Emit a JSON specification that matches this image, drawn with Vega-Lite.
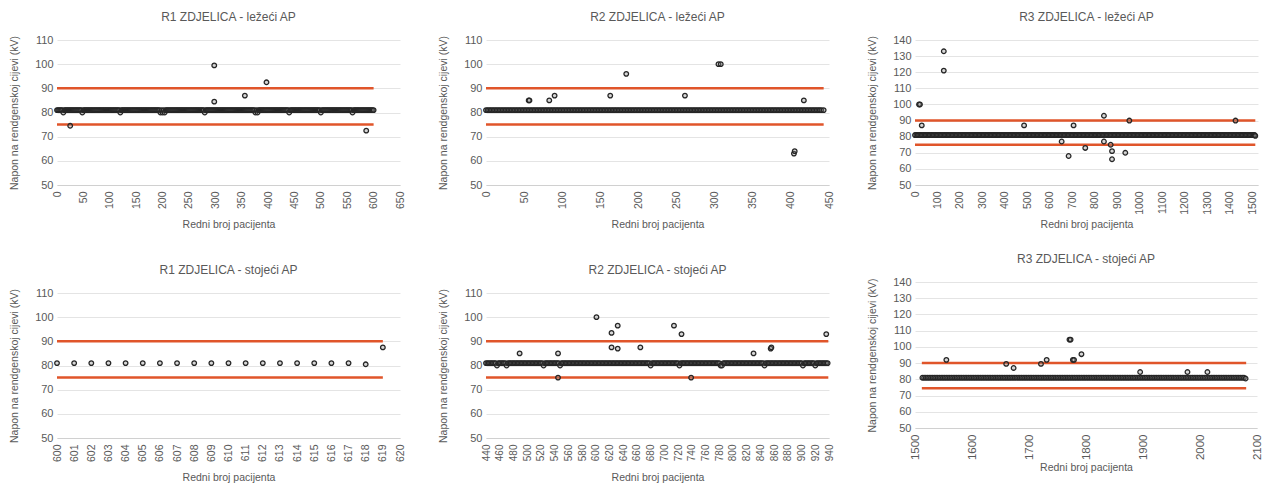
{
"$schema": "https://vega.github.io/schema/vega-lite/v6.json",
"background": "white",
"padding": {"left": 8, "top": 11, "right": 2, "bottom": 2},
"config": {
  "font": "Liberation Sans",
  "view": {"stroke": null},
  "title": {"fontSize": 12, "fontWeight": "normal", "color": "#595959", "offset": 10},
  "axis": {"labelColor": "#595959", "titleColor": "#595959", "labelFontSize": 11, "titleFontSize": 10.5, "titleFontWeight": "normal", "ticks": false, "domain": false, "gridColor": "#e4e4e4", "labelPadding": 4},
  "axisX": {"grid": false, "domain": true, "domainColor": "#d0d0d0", "labelAngle": -90, "labelPadding": 6, "labelOverlap": false, "titlePadding": 6, "labelFontSize": 10.5, "minExtent": 28, "maxExtent": 28},
  "axisY": {"grid": true, "minExtent": 22, "maxExtent": 22, "titlePadding": 16},
  "point": {"shape": "circle", "filled": true, "fill": "#8c8c8c", "fillOpacity": 0.35, "stroke": "#262626", "strokeWidth": 1.3, "strokeOpacity": 1, "size": 21},
  "rule": {"color": "#E0552A", "strokeWidth": 2.5}
},
"datasets": {
  "lim": [
    {"p": "r1l", "x": 0, "xe": 600, "y": 90}, {"p": "r1l", "x": 0, "xe": 600, "y": 75},
    {"p": "r2l", "x": 0, "xe": 443, "y": 90}, {"p": "r2l", "x": 0, "xe": 443, "y": 75},
    {"p": "r3l", "x": 0, "xe": 1513, "y": 90}, {"p": "r3l", "x": 0, "xe": 1513, "y": 75},
    {"p": "r1s", "x": 600, "xe": 619, "y": 90}, {"p": "r1s", "x": 600, "xe": 619, "y": 75},
    {"p": "r2s", "x": 440, "xe": 939, "y": 90}, {"p": "r2s", "x": 440, "xe": 939, "y": 75},
    {"p": "r3s", "x": 1512, "xe": 2081, "y": 90}, {"p": "r3s", "x": 1512, "xe": 2081, "y": 74.5}
  ],
  "r1l": [
    {"x":0,"y":81},{"x":2,"y":81},{"x":4,"y":81},{"x":6,"y":81},{"x":8,"y":81},{"x":10,"y":81},{"x":12,"y":80},{"x":14,"y":81},{"x":16,"y":81},{"x":18,"y":81},
    {"x":20,"y":81},{"x":22,"y":81},{"x":24,"y":81},{"x":26,"y":81},{"x":28,"y":81},{"x":30,"y":81},{"x":32,"y":81},{"x":34,"y":81},{"x":36,"y":81},{"x":38,"y":81},
    {"x":40,"y":81},{"x":42,"y":81},{"x":44,"y":81},{"x":46,"y":81},{"x":48,"y":80},{"x":50,"y":81},{"x":52,"y":81},{"x":54,"y":81},{"x":56,"y":81},{"x":58,"y":81},
    {"x":60,"y":81},{"x":62,"y":81},{"x":64,"y":81},{"x":66,"y":81},{"x":68,"y":81},{"x":70,"y":81},{"x":72,"y":81},{"x":74,"y":81},{"x":76,"y":81},{"x":78,"y":81},
    {"x":80,"y":81},{"x":82,"y":81},{"x":84,"y":81},{"x":86,"y":81},{"x":88,"y":81},{"x":90,"y":81},{"x":92,"y":81},{"x":94,"y":81},{"x":96,"y":81},{"x":98,"y":81},
    {"x":100,"y":81},{"x":102,"y":81},{"x":104,"y":81},{"x":106,"y":81},{"x":108,"y":81},{"x":110,"y":81},{"x":112,"y":81},{"x":114,"y":81},{"x":116,"y":81},{"x":118,"y":81},
    {"x":120,"y":80},{"x":122,"y":81},{"x":124,"y":81},{"x":126,"y":81},{"x":128,"y":81},{"x":130,"y":81},{"x":132,"y":81},{"x":134,"y":81},{"x":136,"y":81},{"x":138,"y":81},
    {"x":140,"y":81},{"x":142,"y":81},{"x":144,"y":81},{"x":146,"y":81},{"x":148,"y":81},{"x":150,"y":81},{"x":152,"y":81},{"x":154,"y":81},{"x":156,"y":81},{"x":158,"y":81},
    {"x":160,"y":81},{"x":162,"y":81},{"x":164,"y":81},{"x":166,"y":81},{"x":168,"y":81},{"x":170,"y":81},{"x":172,"y":81},{"x":174,"y":81},{"x":176,"y":81},{"x":178,"y":81},
    {"x":180,"y":81},{"x":182,"y":81},{"x":184,"y":81},{"x":186,"y":81},{"x":188,"y":81},{"x":190,"y":81},{"x":192,"y":81},{"x":194,"y":81},{"x":196,"y":80},{"x":198,"y":81},
    {"x":200,"y":80},{"x":202,"y":81},{"x":204,"y":80},{"x":206,"y":81},{"x":208,"y":81},{"x":210,"y":81},{"x":212,"y":81},{"x":214,"y":81},{"x":216,"y":81},{"x":218,"y":81},
    {"x":220,"y":81},{"x":222,"y":81},{"x":224,"y":81},{"x":226,"y":81},{"x":228,"y":81},{"x":230,"y":81},{"x":232,"y":81},{"x":234,"y":81},{"x":236,"y":81},{"x":238,"y":81},
    {"x":240,"y":81},{"x":242,"y":81},{"x":244,"y":81},{"x":246,"y":81},{"x":248,"y":81},{"x":250,"y":81},{"x":252,"y":81},{"x":254,"y":81},{"x":256,"y":81},{"x":258,"y":81},
    {"x":260,"y":81},{"x":262,"y":81},{"x":264,"y":81},{"x":266,"y":81},{"x":268,"y":81},{"x":270,"y":81},{"x":272,"y":81},{"x":274,"y":81},{"x":276,"y":81},{"x":278,"y":81},
    {"x":280,"y":80},{"x":282,"y":81},{"x":284,"y":81},{"x":286,"y":81},{"x":288,"y":81},{"x":290,"y":81},{"x":292,"y":81},{"x":294,"y":81},{"x":296,"y":81},{"x":298,"y":81},
    {"x":300,"y":81},{"x":302,"y":81},{"x":304,"y":81},{"x":306,"y":81},{"x":308,"y":81},{"x":310,"y":81},{"x":312,"y":81},{"x":314,"y":81},{"x":316,"y":81},{"x":318,"y":81},
    {"x":320,"y":81},{"x":322,"y":81},{"x":324,"y":81},{"x":326,"y":81},{"x":328,"y":81},{"x":330,"y":81},{"x":332,"y":81},{"x":334,"y":81},{"x":336,"y":81},{"x":338,"y":81},
    {"x":340,"y":81},{"x":342,"y":81},{"x":344,"y":81},{"x":346,"y":81},{"x":348,"y":81},{"x":350,"y":81},{"x":352,"y":81},{"x":354,"y":81},{"x":356,"y":81},{"x":358,"y":81},
    {"x":360,"y":81},{"x":362,"y":81},{"x":364,"y":81},{"x":366,"y":81},{"x":368,"y":81},{"x":370,"y":81},{"x":372,"y":81},{"x":374,"y":81},{"x":376,"y":80},{"x":378,"y":81},
    {"x":380,"y":80},{"x":382,"y":81},{"x":384,"y":81},{"x":386,"y":81},{"x":388,"y":81},{"x":390,"y":81},{"x":392,"y":81},{"x":394,"y":81},{"x":396,"y":81},{"x":398,"y":81},
    {"x":400,"y":81},{"x":402,"y":81},{"x":404,"y":81},{"x":406,"y":81},{"x":408,"y":81},{"x":410,"y":81},{"x":412,"y":81},{"x":414,"y":81},{"x":416,"y":81},{"x":418,"y":81},
    {"x":420,"y":81},{"x":422,"y":81},{"x":424,"y":81},{"x":426,"y":81},{"x":428,"y":81},{"x":430,"y":81},{"x":432,"y":81},{"x":434,"y":81},{"x":436,"y":81},{"x":438,"y":81},
    {"x":440,"y":80},{"x":442,"y":81},{"x":444,"y":81},{"x":446,"y":81},{"x":448,"y":81},{"x":450,"y":81},{"x":452,"y":81},{"x":454,"y":81},{"x":456,"y":81},{"x":458,"y":81},
    {"x":460,"y":81},{"x":462,"y":81},{"x":464,"y":81},{"x":466,"y":81},{"x":468,"y":81},{"x":470,"y":81},{"x":472,"y":81},{"x":474,"y":81},{"x":476,"y":81},{"x":478,"y":81},
    {"x":480,"y":81},{"x":482,"y":81},{"x":484,"y":81},{"x":486,"y":81},{"x":488,"y":81},{"x":490,"y":81},{"x":492,"y":81},{"x":494,"y":81},{"x":496,"y":81},{"x":498,"y":81},
    {"x":500,"y":80},{"x":502,"y":81},{"x":504,"y":81},{"x":506,"y":81},{"x":508,"y":81},{"x":510,"y":81},{"x":512,"y":81},{"x":514,"y":81},{"x":516,"y":81},{"x":518,"y":81},
    {"x":520,"y":81},{"x":522,"y":81},{"x":524,"y":81},{"x":526,"y":81},{"x":528,"y":81},{"x":530,"y":81},{"x":532,"y":81},{"x":534,"y":81},{"x":536,"y":81},{"x":538,"y":81},
    {"x":540,"y":81},{"x":542,"y":81},{"x":544,"y":81},{"x":546,"y":81},{"x":548,"y":81},{"x":550,"y":81},{"x":552,"y":81},{"x":554,"y":81},{"x":556,"y":81},{"x":558,"y":81},
    {"x":560,"y":80},{"x":562,"y":81},{"x":564,"y":81},{"x":566,"y":81},{"x":568,"y":81},{"x":570,"y":81},{"x":572,"y":81},{"x":574,"y":81},{"x":576,"y":81},{"x":578,"y":81},
    {"x":580,"y":81},{"x":582,"y":81},{"x":584,"y":81},{"x":586,"y":81},{"x":588,"y":81},{"x":590,"y":81},{"x":592,"y":81},{"x":594,"y":81},{"x":596,"y":81},{"x":598,"y":81},
    {"x":600,"y":81},
    {"x":25,"y":74.5},{"x":298,"y":99.5},{"x":298,"y":84.5},{"x":356,"y":87},{"x":397,"y":92.5},{"x":586,"y":72.5}
  ],
  "r2l": [
    {"x":0,"y":81},{"x":2,"y":81},{"x":4,"y":81},{"x":6,"y":81},{"x":8,"y":81},{"x":10,"y":81},{"x":12,"y":81},{"x":14,"y":81},{"x":16,"y":81},{"x":18,"y":81},
    {"x":20,"y":81},{"x":22,"y":81},{"x":24,"y":81},{"x":26,"y":81},{"x":28,"y":81},{"x":30,"y":81},{"x":32,"y":81},{"x":34,"y":81},{"x":36,"y":81},{"x":38,"y":81},
    {"x":40,"y":81},{"x":42,"y":81},{"x":44,"y":81},{"x":46,"y":81},{"x":48,"y":81},{"x":50,"y":81},{"x":52,"y":81},{"x":54,"y":81},{"x":56,"y":81},{"x":58,"y":81},
    {"x":60,"y":81},{"x":62,"y":81},{"x":64,"y":81},{"x":66,"y":81},{"x":68,"y":81},{"x":70,"y":81},{"x":72,"y":81},{"x":74,"y":81},{"x":76,"y":81},{"x":78,"y":81},
    {"x":80,"y":81},{"x":82,"y":81},{"x":84,"y":81},{"x":86,"y":81},{"x":88,"y":81},{"x":90,"y":81},{"x":92,"y":81},{"x":94,"y":81},{"x":96,"y":81},{"x":98,"y":81},
    {"x":100,"y":81},{"x":102,"y":81},{"x":104,"y":81},{"x":106,"y":81},{"x":108,"y":81},{"x":110,"y":81},{"x":112,"y":81},{"x":114,"y":81},{"x":116,"y":81},{"x":118,"y":81},
    {"x":120,"y":81},{"x":122,"y":81},{"x":124,"y":81},{"x":126,"y":81},{"x":128,"y":81},{"x":130,"y":81},{"x":132,"y":81},{"x":134,"y":81},{"x":136,"y":81},{"x":138,"y":81},
    {"x":140,"y":81},{"x":142,"y":81},{"x":144,"y":81},{"x":146,"y":81},{"x":148,"y":81},{"x":150,"y":81},{"x":152,"y":81},{"x":154,"y":81},{"x":156,"y":81},{"x":158,"y":81},
    {"x":160,"y":81},{"x":162,"y":81},{"x":164,"y":81},{"x":166,"y":81},{"x":168,"y":81},{"x":170,"y":81},{"x":172,"y":81},{"x":174,"y":81},{"x":176,"y":81},{"x":178,"y":81},
    {"x":180,"y":81},{"x":182,"y":81},{"x":184,"y":81},{"x":186,"y":81},{"x":188,"y":81},{"x":190,"y":81},{"x":192,"y":81},{"x":194,"y":81},{"x":196,"y":81},{"x":198,"y":81},
    {"x":200,"y":81},{"x":202,"y":81},{"x":204,"y":81},{"x":206,"y":81},{"x":208,"y":81},{"x":210,"y":81},{"x":212,"y":81},{"x":214,"y":81},{"x":216,"y":81},{"x":218,"y":81},
    {"x":220,"y":81},{"x":222,"y":81},{"x":224,"y":81},{"x":226,"y":81},{"x":228,"y":81},{"x":230,"y":81},{"x":232,"y":81},{"x":234,"y":81},{"x":236,"y":81},{"x":238,"y":81},
    {"x":240,"y":81},{"x":242,"y":81},{"x":244,"y":81},{"x":246,"y":81},{"x":248,"y":81},{"x":250,"y":81},{"x":252,"y":81},{"x":254,"y":81},{"x":256,"y":81},{"x":258,"y":81},
    {"x":260,"y":81},{"x":262,"y":81},{"x":264,"y":81},{"x":266,"y":81},{"x":268,"y":81},{"x":270,"y":81},{"x":272,"y":81},{"x":274,"y":81},{"x":276,"y":81},{"x":278,"y":81},
    {"x":280,"y":81},{"x":282,"y":81},{"x":284,"y":81},{"x":286,"y":81},{"x":288,"y":81},{"x":290,"y":81},{"x":292,"y":81},{"x":294,"y":81},{"x":296,"y":81},{"x":298,"y":81},
    {"x":300,"y":81},{"x":302,"y":81},{"x":304,"y":81},{"x":306,"y":81},{"x":308,"y":81},{"x":310,"y":81},{"x":312,"y":81},{"x":314,"y":81},{"x":316,"y":81},{"x":318,"y":81},
    {"x":320,"y":81},{"x":322,"y":81},{"x":324,"y":81},{"x":326,"y":81},{"x":328,"y":81},{"x":330,"y":81},{"x":332,"y":81},{"x":334,"y":81},{"x":336,"y":81},{"x":338,"y":81},
    {"x":340,"y":81},{"x":342,"y":81},{"x":344,"y":81},{"x":346,"y":81},{"x":348,"y":81},{"x":350,"y":81},{"x":352,"y":81},{"x":354,"y":81},{"x":356,"y":81},{"x":358,"y":81},
    {"x":360,"y":81},{"x":362,"y":81},{"x":364,"y":81},{"x":366,"y":81},{"x":368,"y":81},{"x":370,"y":81},{"x":372,"y":81},{"x":374,"y":81},{"x":376,"y":81},{"x":378,"y":81},
    {"x":380,"y":81},{"x":382,"y":81},{"x":384,"y":81},{"x":386,"y":81},{"x":388,"y":81},{"x":390,"y":81},{"x":392,"y":81},{"x":394,"y":81},{"x":396,"y":81},{"x":398,"y":81},
    {"x":400,"y":81},{"x":402,"y":81},{"x":404,"y":81},{"x":406,"y":81},{"x":408,"y":81},{"x":410,"y":81},{"x":412,"y":81},{"x":414,"y":81},{"x":416,"y":81},{"x":418,"y":81},
    {"x":420,"y":81},{"x":422,"y":81},{"x":424,"y":81},{"x":426,"y":81},{"x":428,"y":81},{"x":430,"y":81},{"x":432,"y":81},{"x":434,"y":81},{"x":436,"y":81},{"x":438,"y":81},
    {"x":440,"y":81},{"x":443,"y":81},
    {"x":56,"y":85},{"x":57,"y":85},{"x":83,"y":85},{"x":90,"y":87},{"x":163,"y":87},{"x":184,"y":96},{"x":261,"y":87},{"x":305,"y":100},{"x":308,"y":100},{"x":404,"y":63},{"x":405,"y":64},{"x":417,"y":85}
  ],
  "r3l": [
    {"x":0,"y":81},{"x":6,"y":81},{"x":12,"y":81},{"x":18,"y":81},{"x":24,"y":81},{"x":30,"y":81},{"x":36,"y":81},{"x":42,"y":81},{"x":48,"y":81},{"x":54,"y":81},
    {"x":60,"y":81},{"x":66,"y":81},{"x":72,"y":81},{"x":78,"y":81},{"x":84,"y":81},{"x":90,"y":81},{"x":96,"y":81},{"x":102,"y":81},{"x":108,"y":81},{"x":114,"y":81},
    {"x":120,"y":81},{"x":126,"y":81},{"x":132,"y":81},{"x":138,"y":81},{"x":144,"y":81},{"x":150,"y":81},{"x":156,"y":81},{"x":162,"y":81},{"x":168,"y":81},{"x":174,"y":81},
    {"x":180,"y":81},{"x":186,"y":81},{"x":192,"y":81},{"x":198,"y":81},{"x":204,"y":81},{"x":210,"y":81},{"x":216,"y":81},{"x":222,"y":81},{"x":228,"y":81},{"x":234,"y":81},
    {"x":240,"y":81},{"x":246,"y":81},{"x":252,"y":81},{"x":258,"y":81},{"x":264,"y":81},{"x":270,"y":81},{"x":276,"y":81},{"x":282,"y":81},{"x":288,"y":81},{"x":294,"y":81},
    {"x":300,"y":81},{"x":306,"y":81},{"x":312,"y":81},{"x":318,"y":81},{"x":324,"y":81},{"x":330,"y":81},{"x":336,"y":81},{"x":342,"y":81},{"x":348,"y":81},{"x":354,"y":81},
    {"x":360,"y":81},{"x":366,"y":81},{"x":372,"y":81},{"x":378,"y":81},{"x":384,"y":81},{"x":390,"y":81},{"x":396,"y":81},{"x":402,"y":81},{"x":408,"y":81},{"x":414,"y":81},
    {"x":420,"y":81},{"x":426,"y":81},{"x":432,"y":81},{"x":438,"y":81},{"x":444,"y":81},{"x":450,"y":81},{"x":456,"y":81},{"x":462,"y":81},{"x":468,"y":81},{"x":474,"y":81},
    {"x":480,"y":81},{"x":486,"y":81},{"x":492,"y":81},{"x":498,"y":81},{"x":504,"y":81},{"x":510,"y":81},{"x":516,"y":81},{"x":522,"y":81},{"x":528,"y":81},{"x":534,"y":81},
    {"x":540,"y":81},{"x":546,"y":81},{"x":552,"y":81},{"x":558,"y":81},{"x":564,"y":81},{"x":570,"y":81},{"x":576,"y":81},{"x":582,"y":81},{"x":588,"y":81},{"x":594,"y":81},
    {"x":600,"y":81},{"x":606,"y":81},{"x":612,"y":81},{"x":618,"y":81},{"x":624,"y":81},{"x":630,"y":81},{"x":636,"y":81},{"x":642,"y":81},{"x":648,"y":81},{"x":654,"y":81},
    {"x":660,"y":81},{"x":666,"y":81},{"x":672,"y":81},{"x":678,"y":81},{"x":684,"y":81},{"x":690,"y":81},{"x":696,"y":81},{"x":702,"y":81},{"x":708,"y":81},{"x":714,"y":81},
    {"x":720,"y":81},{"x":726,"y":81},{"x":732,"y":81},{"x":738,"y":81},{"x":744,"y":81},{"x":750,"y":81},{"x":756,"y":81},{"x":762,"y":81},{"x":768,"y":81},{"x":774,"y":81},
    {"x":780,"y":81},{"x":786,"y":81},{"x":792,"y":81},{"x":798,"y":81},{"x":804,"y":81},{"x":810,"y":81},{"x":816,"y":81},{"x":822,"y":81},{"x":828,"y":81},{"x":834,"y":81},
    {"x":840,"y":81},{"x":846,"y":81},{"x":852,"y":81},{"x":858,"y":81},{"x":864,"y":81},{"x":870,"y":81},{"x":876,"y":81},{"x":882,"y":81},{"x":888,"y":81},{"x":894,"y":81},
    {"x":900,"y":81},{"x":906,"y":81},{"x":912,"y":81},{"x":918,"y":81},{"x":924,"y":81},{"x":930,"y":81},{"x":936,"y":81},{"x":942,"y":81},{"x":948,"y":81},{"x":954,"y":81},
    {"x":960,"y":81},{"x":966,"y":81},{"x":972,"y":81},{"x":978,"y":81},{"x":984,"y":81},{"x":990,"y":81},{"x":996,"y":81},{"x":1002,"y":81},{"x":1008,"y":81},{"x":1014,"y":81},
    {"x":1020,"y":81},{"x":1026,"y":81},{"x":1032,"y":81},{"x":1038,"y":81},{"x":1044,"y":81},{"x":1050,"y":81},{"x":1056,"y":81},{"x":1062,"y":81},{"x":1068,"y":81},{"x":1074,"y":81},
    {"x":1080,"y":81},{"x":1086,"y":81},{"x":1092,"y":81},{"x":1098,"y":81},{"x":1104,"y":81},{"x":1110,"y":81},{"x":1116,"y":81},{"x":1122,"y":81},{"x":1128,"y":81},{"x":1134,"y":81},
    {"x":1140,"y":81},{"x":1146,"y":81},{"x":1152,"y":81},{"x":1158,"y":81},{"x":1164,"y":81},{"x":1170,"y":81},{"x":1176,"y":81},{"x":1182,"y":81},{"x":1188,"y":81},{"x":1194,"y":81},
    {"x":1200,"y":81},{"x":1206,"y":81},{"x":1212,"y":81},{"x":1218,"y":81},{"x":1224,"y":81},{"x":1230,"y":81},{"x":1236,"y":81},{"x":1242,"y":81},{"x":1248,"y":81},{"x":1254,"y":81},
    {"x":1260,"y":81},{"x":1266,"y":81},{"x":1272,"y":81},{"x":1278,"y":81},{"x":1284,"y":81},{"x":1290,"y":81},{"x":1296,"y":81},{"x":1302,"y":81},{"x":1308,"y":81},{"x":1314,"y":81},
    {"x":1320,"y":81},{"x":1326,"y":81},{"x":1332,"y":81},{"x":1338,"y":81},{"x":1344,"y":81},{"x":1350,"y":81},{"x":1356,"y":81},{"x":1362,"y":81},{"x":1368,"y":81},{"x":1374,"y":81},
    {"x":1380,"y":81},{"x":1386,"y":81},{"x":1392,"y":81},{"x":1398,"y":81},{"x":1404,"y":81},{"x":1410,"y":81},{"x":1416,"y":81},{"x":1422,"y":81},{"x":1428,"y":81},{"x":1434,"y":81},
    {"x":1440,"y":81},{"x":1446,"y":81},{"x":1452,"y":81},{"x":1458,"y":81},{"x":1464,"y":81},{"x":1470,"y":81},{"x":1476,"y":81},{"x":1482,"y":81},{"x":1488,"y":81},{"x":1494,"y":81},
    {"x":1500,"y":81},{"x":1506,"y":81},{"x":1510,"y":81},
    {"x":18,"y":100},{"x":22,"y":100},{"x":30,"y":87},{"x":128,"y":133},{"x":128,"y":121},{"x":485,"y":87},{"x":652,"y":77},{"x":683,"y":68},{"x":705,"y":87},{"x":757,"y":73},
    {"x":840,"y":93},{"x":840,"y":77},{"x":870,"y":75},{"x":876,"y":71},{"x":876,"y":66},{"x":935,"y":70},{"x":953,"y":90},{"x":1425,"y":90},{"x":1513,"y":80.5}
  ],
  "r1s": [
    {"x":600,"y":81},{"x":601,"y":81},{"x":602,"y":81},{"x":603,"y":81},{"x":604,"y":81},{"x":605,"y":81},{"x":606,"y":81},{"x":607,"y":81},{"x":608,"y":81},{"x":609,"y":81},
    {"x":610,"y":81},{"x":611,"y":81},{"x":612,"y":81},{"x":613,"y":81},{"x":614,"y":81},{"x":615,"y":81},{"x":616,"y":81},{"x":617,"y":81},{"x":618,"y":80.5},{"x":619,"y":87.5}
  ],
  "r2s": [
    {"x":440,"y":81},{"x":442,"y":81},{"x":444,"y":81},{"x":446,"y":81},{"x":448,"y":81},{"x":450,"y":81},{"x":452,"y":81},{"x":454,"y":81},{"x":456,"y":80},{"x":458,"y":81},
    {"x":460,"y":81},{"x":462,"y":81},{"x":464,"y":81},{"x":466,"y":81},{"x":468,"y":81},{"x":470,"y":80},{"x":472,"y":81},{"x":474,"y":81},{"x":476,"y":81},{"x":478,"y":81},
    {"x":480,"y":81},{"x":482,"y":81},{"x":484,"y":81},{"x":486,"y":81},{"x":488,"y":81},{"x":490,"y":81},{"x":492,"y":81},{"x":494,"y":81},{"x":496,"y":81},{"x":498,"y":81},
    {"x":500,"y":81},{"x":502,"y":81},{"x":504,"y":81},{"x":506,"y":81},{"x":508,"y":81},{"x":510,"y":81},{"x":512,"y":81},{"x":514,"y":81},{"x":516,"y":81},{"x":518,"y":81},
    {"x":520,"y":81},{"x":522,"y":81},{"x":524,"y":80},{"x":526,"y":81},{"x":528,"y":81},{"x":530,"y":81},{"x":532,"y":81},{"x":534,"y":81},{"x":536,"y":81},{"x":538,"y":81},
    {"x":540,"y":81},{"x":542,"y":81},{"x":544,"y":81},{"x":546,"y":81},{"x":548,"y":80},{"x":550,"y":81},{"x":552,"y":81},{"x":554,"y":81},{"x":556,"y":81},{"x":558,"y":81},
    {"x":560,"y":81},{"x":562,"y":81},{"x":564,"y":81},{"x":566,"y":81},{"x":568,"y":81},{"x":570,"y":81},{"x":572,"y":81},{"x":574,"y":81},{"x":576,"y":81},{"x":578,"y":81},
    {"x":580,"y":81},{"x":582,"y":81},{"x":584,"y":81},{"x":586,"y":81},{"x":588,"y":81},{"x":590,"y":81},{"x":592,"y":81},{"x":594,"y":81},{"x":596,"y":81},{"x":598,"y":81},
    {"x":600,"y":81},{"x":602,"y":81},{"x":604,"y":81},{"x":606,"y":81},{"x":608,"y":81},{"x":610,"y":81},{"x":612,"y":81},{"x":614,"y":81},{"x":616,"y":81},{"x":618,"y":81},
    {"x":620,"y":81},{"x":622,"y":81},{"x":624,"y":81},{"x":626,"y":81},{"x":628,"y":81},{"x":630,"y":81},{"x":632,"y":81},{"x":634,"y":81},{"x":636,"y":81},{"x":638,"y":81},
    {"x":640,"y":81},{"x":642,"y":81},{"x":644,"y":81},{"x":646,"y":81},{"x":648,"y":81},{"x":650,"y":81},{"x":652,"y":81},{"x":654,"y":81},{"x":656,"y":81},{"x":658,"y":81},
    {"x":660,"y":81},{"x":662,"y":81},{"x":664,"y":81},{"x":666,"y":81},{"x":668,"y":81},{"x":670,"y":81},{"x":672,"y":81},{"x":674,"y":81},{"x":676,"y":81},{"x":678,"y":81},
    {"x":680,"y":80},{"x":682,"y":81},{"x":684,"y":81},{"x":686,"y":81},{"x":688,"y":81},{"x":690,"y":81},{"x":692,"y":81},{"x":694,"y":81},{"x":696,"y":81},{"x":698,"y":81},
    {"x":700,"y":81},{"x":702,"y":81},{"x":704,"y":81},{"x":706,"y":81},{"x":708,"y":81},{"x":710,"y":81},{"x":712,"y":81},{"x":714,"y":81},{"x":716,"y":81},{"x":718,"y":81},
    {"x":720,"y":81},{"x":722,"y":80},{"x":724,"y":81},{"x":726,"y":81},{"x":728,"y":81},{"x":730,"y":81},{"x":732,"y":81},{"x":734,"y":81},{"x":736,"y":81},{"x":738,"y":81},
    {"x":740,"y":81},{"x":742,"y":81},{"x":744,"y":81},{"x":746,"y":81},{"x":748,"y":81},{"x":750,"y":81},{"x":752,"y":81},{"x":754,"y":81},{"x":756,"y":81},{"x":758,"y":81},
    {"x":760,"y":81},{"x":762,"y":81},{"x":764,"y":81},{"x":766,"y":81},{"x":768,"y":81},{"x":770,"y":81},{"x":772,"y":81},{"x":774,"y":81},{"x":776,"y":81},{"x":778,"y":81},
    {"x":780,"y":81},{"x":782,"y":80},{"x":784,"y":80},{"x":786,"y":81},{"x":788,"y":81},{"x":790,"y":81},{"x":792,"y":81},{"x":794,"y":81},{"x":796,"y":81},{"x":798,"y":81},
    {"x":800,"y":81},{"x":802,"y":81},{"x":804,"y":81},{"x":806,"y":81},{"x":808,"y":81},{"x":810,"y":81},{"x":812,"y":81},{"x":814,"y":81},{"x":816,"y":81},{"x":818,"y":81},
    {"x":820,"y":81},{"x":822,"y":81},{"x":824,"y":81},{"x":826,"y":81},{"x":828,"y":81},{"x":830,"y":81},{"x":832,"y":81},{"x":834,"y":81},{"x":836,"y":81},{"x":838,"y":81},
    {"x":840,"y":81},{"x":842,"y":81},{"x":844,"y":81},{"x":846,"y":80},{"x":848,"y":81},{"x":850,"y":81},{"x":852,"y":81},{"x":854,"y":81},{"x":856,"y":81},{"x":858,"y":81},
    {"x":860,"y":81},{"x":862,"y":81},{"x":864,"y":81},{"x":866,"y":81},{"x":868,"y":81},{"x":870,"y":81},{"x":872,"y":81},{"x":874,"y":81},{"x":876,"y":81},{"x":878,"y":81},
    {"x":880,"y":81},{"x":882,"y":81},{"x":884,"y":81},{"x":886,"y":81},{"x":888,"y":81},{"x":890,"y":81},{"x":892,"y":81},{"x":894,"y":81},{"x":896,"y":81},{"x":898,"y":81},
    {"x":900,"y":81},{"x":902,"y":80},{"x":904,"y":81},{"x":906,"y":81},{"x":908,"y":81},{"x":910,"y":81},{"x":912,"y":81},{"x":914,"y":81},{"x":916,"y":81},{"x":918,"y":81},
    {"x":920,"y":80},{"x":922,"y":81},{"x":924,"y":81},{"x":926,"y":81},{"x":928,"y":81},{"x":930,"y":81},{"x":932,"y":81},{"x":934,"y":81},{"x":936,"y":81},{"x":938,"y":81},
    {"x":489,"y":85},{"x":545,"y":85},{"x":545,"y":75},{"x":601,"y":100},{"x":623,"y":93.5},{"x":623,"y":87.5},{"x":632,"y":96.5},{"x":632,"y":87},{"x":665,"y":87.5},
    {"x":714,"y":96.5},{"x":725,"y":93},{"x":739,"y":75},{"x":830,"y":85},{"x":855,"y":87},{"x":856,"y":87.5},{"x":936,"y":93}
  ],
  "r3s": [
    {"x":1513,"y":81},{"x":1516,"y":81},{"x":1519,"y":81},{"x":1522,"y":81},{"x":1525,"y":81},{"x":1528,"y":81},{"x":1531,"y":81},{"x":1534,"y":81},{"x":1537,"y":81},{"x":1540,"y":81},
    {"x":1543,"y":81},{"x":1546,"y":81},{"x":1549,"y":81},{"x":1552,"y":81},{"x":1555,"y":81},{"x":1558,"y":81},{"x":1561,"y":81},{"x":1564,"y":81},{"x":1567,"y":81},{"x":1570,"y":81},
    {"x":1573,"y":81},{"x":1576,"y":81},{"x":1579,"y":81},{"x":1582,"y":81},{"x":1585,"y":81},{"x":1588,"y":81},{"x":1591,"y":81},{"x":1594,"y":81},{"x":1597,"y":81},{"x":1600,"y":81},
    {"x":1603,"y":81},{"x":1606,"y":81},{"x":1609,"y":81},{"x":1612,"y":81},{"x":1615,"y":81},{"x":1618,"y":81},{"x":1621,"y":81},{"x":1624,"y":81},{"x":1627,"y":81},{"x":1630,"y":81},
    {"x":1633,"y":81},{"x":1636,"y":81},{"x":1639,"y":81},{"x":1642,"y":81},{"x":1645,"y":81},{"x":1648,"y":81},{"x":1651,"y":81},{"x":1654,"y":81},{"x":1657,"y":81},{"x":1660,"y":81},
    {"x":1663,"y":81},{"x":1666,"y":81},{"x":1669,"y":81},{"x":1672,"y":81},{"x":1675,"y":81},{"x":1678,"y":81},{"x":1681,"y":81},{"x":1684,"y":81},{"x":1687,"y":81},{"x":1690,"y":81},
    {"x":1693,"y":81},{"x":1696,"y":81},{"x":1699,"y":81},{"x":1702,"y":81},{"x":1705,"y":81},{"x":1708,"y":81},{"x":1711,"y":81},{"x":1714,"y":81},{"x":1717,"y":81},{"x":1720,"y":81},
    {"x":1723,"y":81},{"x":1726,"y":81},{"x":1729,"y":81},{"x":1732,"y":81},{"x":1735,"y":81},{"x":1738,"y":81},{"x":1741,"y":81},{"x":1744,"y":81},{"x":1747,"y":81},{"x":1750,"y":81},
    {"x":1753,"y":81},{"x":1756,"y":81},{"x":1759,"y":81},{"x":1762,"y":81},{"x":1765,"y":81},{"x":1768,"y":81},{"x":1771,"y":81},{"x":1774,"y":81},{"x":1777,"y":81},{"x":1780,"y":81},
    {"x":1783,"y":81},{"x":1786,"y":81},{"x":1789,"y":81},{"x":1792,"y":81},{"x":1795,"y":81},{"x":1798,"y":81},{"x":1801,"y":81},{"x":1804,"y":81},{"x":1807,"y":81},{"x":1810,"y":81},
    {"x":1813,"y":81},{"x":1816,"y":81},{"x":1819,"y":81},{"x":1822,"y":81},{"x":1825,"y":81},{"x":1828,"y":81},{"x":1831,"y":81},{"x":1834,"y":81},{"x":1837,"y":81},{"x":1840,"y":81},
    {"x":1843,"y":81},{"x":1846,"y":81},{"x":1849,"y":81},{"x":1852,"y":81},{"x":1855,"y":81},{"x":1858,"y":81},{"x":1861,"y":81},{"x":1864,"y":81},{"x":1867,"y":81},{"x":1870,"y":81},
    {"x":1873,"y":81},{"x":1876,"y":81},{"x":1879,"y":81},{"x":1882,"y":81},{"x":1885,"y":81},{"x":1888,"y":81},{"x":1891,"y":81},{"x":1894,"y":81},{"x":1897,"y":81},{"x":1900,"y":81},
    {"x":1903,"y":81},{"x":1906,"y":81},{"x":1909,"y":81},{"x":1912,"y":81},{"x":1915,"y":81},{"x":1918,"y":81},{"x":1921,"y":81},{"x":1924,"y":81},{"x":1927,"y":81},{"x":1930,"y":81},
    {"x":1933,"y":81},{"x":1936,"y":81},{"x":1939,"y":81},{"x":1942,"y":81},{"x":1945,"y":81},{"x":1948,"y":81},{"x":1951,"y":81},{"x":1954,"y":81},{"x":1957,"y":81},{"x":1960,"y":81},
    {"x":1963,"y":81},{"x":1966,"y":81},{"x":1969,"y":81},{"x":1972,"y":81},{"x":1975,"y":81},{"x":1978,"y":81},{"x":1981,"y":81},{"x":1984,"y":81},{"x":1987,"y":81},{"x":1990,"y":81},
    {"x":1993,"y":81},{"x":1996,"y":81},{"x":1999,"y":81},{"x":2002,"y":81},{"x":2005,"y":81},{"x":2008,"y":81},{"x":2011,"y":81},{"x":2014,"y":81},{"x":2017,"y":81},{"x":2020,"y":81},
    {"x":2023,"y":81},{"x":2026,"y":81},{"x":2029,"y":81},{"x":2032,"y":81},{"x":2035,"y":81},{"x":2038,"y":81},{"x":2041,"y":81},{"x":2044,"y":81},{"x":2047,"y":81},{"x":2050,"y":81},
    {"x":2053,"y":81},{"x":2056,"y":81},{"x":2059,"y":81},{"x":2062,"y":81},{"x":2065,"y":81},{"x":2068,"y":81},{"x":2071,"y":81},{"x":2074,"y":81},{"x":2077,"y":81},
    {"x":1555,"y":92},{"x":1660,"y":89.5},{"x":1673,"y":87},{"x":1721,"y":89.5},{"x":1731,"y":92},{"x":1771,"y":104.5},{"x":1773,"y":104.5},{"x":1777,"y":92},{"x":1779,"y":92},
    {"x":1792,"y":95.5},{"x":1895,"y":84.5},{"x":1978,"y":84.5},{"x":2013,"y":84.5},{"x":2080,"y":80.5}
  ]
},
"spacing": 31,
"hconcat": [
  {"spacing": 34, "vconcat": [
    {"title": "R1 ZDJELICA - ležeći AP", "width": 343, "height": 145,
     "encoding": {
       "x": {"field": "x", "type": "quantitative", "title": "Redni broj pacijenta", "scale": {"domain": [0, 650], "nice": false, "zero": false}, "axis": {"format": "d", "values": [0,50,100,150,200,250,300,350,400,450,500,550,600,650]}},
       "y": {"field": "y", "type": "quantitative", "title": "Napon na rendgenskoj cijevi (kV)", "scale": {"domain": [50, 110], "nice": false, "zero": false}, "axis": {"values": [50,60,70,80,90,100,110]}}
     },
     "layer": [
       {"data": {"name": "lim"}, "transform": [{"filter": "datum.p === 'r1l'"}], "mark": "rule", "encoding": {"x2": {"field": "xe"}}},
       {"data": {"name": "r1l"}, "mark": "point"}
     ]},
    {"title": "R1 ZDJELICA - stojeći AP", "width": 343, "height": 145,
     "encoding": {
       "x": {"field": "x", "type": "quantitative", "title": "Redni broj pacijenta", "scale": {"domain": [600, 620], "nice": false, "zero": false}, "axis": {"format": "d", "values": [600,601,602,603,604,605,606,607,608,609,610,611,612,613,614,615,616,617,618,619,620]}},
       "y": {"field": "y", "type": "quantitative", "title": "Napon na rendgenskoj cijevi (kV)", "scale": {"domain": [50, 110], "nice": false, "zero": false}, "axis": {"values": [50,60,70,80,90,100,110]}}
     },
     "layer": [
       {"data": {"name": "lim"}, "transform": [{"filter": "datum.p === 'r1s'"}], "mark": "rule", "encoding": {"x2": {"field": "xe"}}},
       {"data": {"name": "r1s"}, "mark": "point"}
     ]}
  ]},
  {"spacing": 34, "vconcat": [
    {"title": "R2 ZDJELICA - ležeći AP", "width": 343, "height": 145,
     "encoding": {
       "x": {"field": "x", "type": "quantitative", "title": "Redni broj pacijenta", "scale": {"domain": [0, 450], "nice": false, "zero": false}, "axis": {"format": "d", "values": [0,50,100,150,200,250,300,350,400,450]}},
       "y": {"field": "y", "type": "quantitative", "title": "Napon na rendgenskoj cijevi (kV)", "scale": {"domain": [50, 110], "nice": false, "zero": false}, "axis": {"values": [50,60,70,80,90,100,110]}}
     },
     "layer": [
       {"data": {"name": "lim"}, "transform": [{"filter": "datum.p === 'r2l'"}], "mark": "rule", "encoding": {"x2": {"field": "xe"}}},
       {"data": {"name": "r2l"}, "mark": "point"}
     ]},
    {"title": "R2 ZDJELICA - stojeći AP", "width": 343, "height": 145,
     "encoding": {
       "x": {"field": "x", "type": "quantitative", "title": "Redni broj pacijenta", "scale": {"domain": [440, 940], "nice": false, "zero": false}, "axis": {"format": "d", "labelFontSize": 10, "values": [440,460,480,500,520,540,560,580,600,620,640,660,680,700,720,740,760,780,800,820,840,860,880,900,920,940]}},
       "y": {"field": "y", "type": "quantitative", "title": "Napon na rendgenskoj cijevi (kV)", "scale": {"domain": [50, 110], "nice": false, "zero": false}, "axis": {"values": [50,60,70,80,90,100,110]}}
     },
     "layer": [
       {"data": {"name": "lim"}, "transform": [{"filter": "datum.p === 'r2s'"}], "mark": "rule", "encoding": {"x2": {"field": "xe"}}},
       {"data": {"name": "r2s"}, "mark": "point"}
     ]}
  ]},
  {"spacing": 23, "vconcat": [
    {"title": "R3 ZDJELICA - ležeći AP", "width": 343, "height": 145,
     "encoding": {
       "x": {"field": "x", "type": "quantitative", "title": "Redni broj pacijenta", "scale": {"domain": [0, 1525], "nice": false, "zero": false}, "axis": {"format": "d", "values": [0,100,200,300,400,500,600,700,800,900,1000,1100,1200,1300,1400,1500]}},
       "y": {"field": "y", "type": "quantitative", "title": "Napon na rendgenskoj cijevi (kV)", "scale": {"domain": [50, 140], "nice": false, "zero": false}, "axis": {"values": [50,60,70,80,90,100,110,120,130,140]}}
     },
     "layer": [
       {"data": {"name": "lim"}, "transform": [{"filter": "datum.p === 'r3l'"}], "mark": "rule", "encoding": {"x2": {"field": "xe"}}},
       {"data": {"name": "r3l"}, "mark": "point"}
     ]},
    {"title": "R3 ZDJELICA - stojeći AP", "width": 342, "height": 146,
     "encoding": {
       "x": {"field": "x", "type": "quantitative", "title": "Redni broj pacijenta", "scale": {"domain": [1500, 2100], "nice": false, "zero": false}, "axis": {"format": "d", "labelFontSize": 11.5, "values": [1500,1600,1700,1800,1900,2000,2100]}},
       "y": {"field": "y", "type": "quantitative", "title": "Napon na rendgenskoj cijevi (kV)", "scale": {"domain": [50, 140], "nice": false, "zero": false}, "axis": {"values": [50,60,70,80,90,100,110,120,130,140]}}
     },
     "layer": [
       {"data": {"name": "lim"}, "transform": [{"filter": "datum.p === 'r3s'"}], "mark": "rule", "encoding": {"x2": {"field": "xe"}}},
       {"data": {"name": "r3s"}, "mark": "point"}
     ]}
  ]}
]
}
